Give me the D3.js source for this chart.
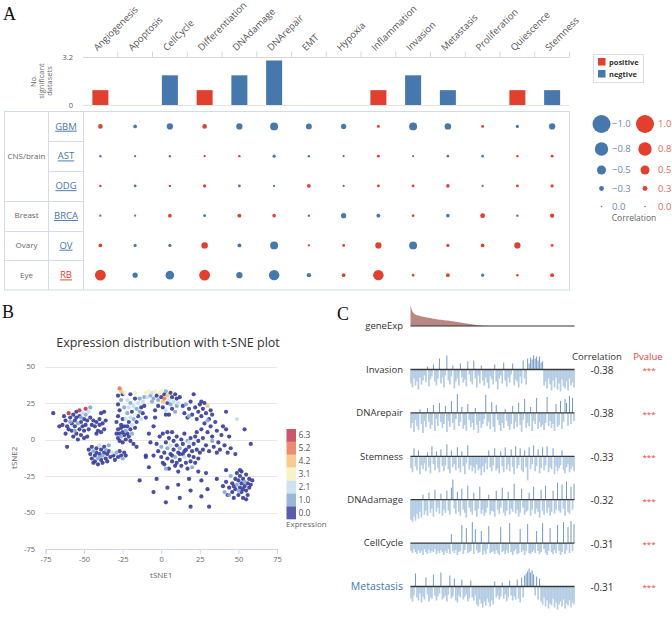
<!DOCTYPE html>
<html>
<head>
<meta charset="utf-8">
<script src="https://cdn.jsdelivr.net/npm/d3@7"></script>
<style>
  body { margin: 0; background: #fff; }
  svg { display: block; font-family: "Open Sans", "Noto Sans", sans-serif; }
</style>
</head>
<body>
<svg id="chart" width="672" height="620"></svg>
<script>
// ---------- 数据 ----------
// A: hallmark 列与显著数据集条形
const hallmarks = ["Angiogenesis", "Apoptosis", "CellCycle", "Differentiation", "DNAdamage", "DNArepair", "EMT",
  "Hypoxia", "Inflammation", "Invasion", "Metastasis", "Proliferation", "Quiescence", "Stemness"];
const sigCounts = [1, 0, 2, 1, 2, 3, 0, 0, 1, 2, 1, 0, 1, 1];
const sigSign = [1, 0, -1, 1, -1, -1, 0, 0, 1, -1, -1, 0, 1, -1];
const barTicks = [0, 3.2];

// A: 气泡矩阵
const cancers = ["GBM", "AST", "ODG", "BRCA", "OV", "RB"];
const tissues = ["CNS/brain", "Breast", "Ovary", "Eye"];
const tissueRows = [3, 1, 1, 1];
const corrGBM = [0.28, -0.2, -0.37, 0.28, -0.37, -0.45, -0.35, -0.32, 0.13, -0.45, -0.38, 0.12, -0.15, -0.37];
const corrAST = [-0.08, -0.05, -0.07, 0.06, 0.08, -0.15, -0.08, -0.05, 0.12, -0.04, -0.1, -0.1, 0.08, 0.12];
const corrODG = [0.08, -0.12, 0.08, 0.15, -0.12, -0.06, 0.2, -0.06, 0.12, 0.12, 0.18, -0.06, 0.12, 0.15];
const corrBRCA = [-0.06, -0.05, 0.2, -0.12, 0.22, 0.18, -0.07, -0.32, -0.22, 0.1, -0.18, 0.3, -0.08, 0.25];
const corrOV = [0.2, -0.14, -0.15, 0.38, -0.22, -0.45, 0.06, 0.12, 0.37, -0.45, 0.15, 0.2, 0.37, 0.12];
const corrRB = [0.62, -0.32, -0.48, 0.62, -0.37, -0.6, -0.25, 0.2, 0.6, 0.1, 0.2, -0.15, 0.08, 0.22];
const corrRows = [corrGBM, corrAST, corrODG, corrBRCA, corrOV, corrRB];
const sizeLegend = [1.0, 0.8, 0.5, 0.3, 0.0];

// B: t-SNE 点 [tSNE1, tSNE2, expression]
const tsnePoints = [
  [-70,18,0],[-61,-5,0],[-60,18,6.3],[-53,20,6.3],[-49,21,6.3],[-46,22,1],[-47,19,2.1],
  [-64,10,0],[-62,13,0],[-61,9,0],[-59,15,0],[-58,11,0],[-58,6,0],[-57,17,0],[-56,13,0],[-56,9,0],[-55,4,0],
  [-55,15,0],[-54,11,1],[-53,7,0],[-53,16,0],[-52,12,0],[-52,3,0],[-51,9,0],[-50,14,0],[-50,6,0],[-49,17,1],
  [-49,10,0],[-48,2,0],[-48,13,0],[-47,7,0],[-46,15,0],[-45,10,0],[-60,7,0],[-62,4,0],[-57,2,0],[-54,0,0],
  [-51,18,2.1],[-63,16,0],[-59,12,1],[-55,19,0],[-52,15,1],[-56,6,1],[-66,9,0],[-50,1,0],
  [-44,13,0],[-43,9,0],[-42,12,0],[-41,6,0],[-40,10,0],[-40,14,0],[-39,5,0],[-38,11,0],[-37,7,0],[-37,19,0],
  [-36,13,0],[-42,4,0],[-39,18,0],
  [-47,-7,0],[-46,-10,0],[-45,-5,0],[-45,-13,0],[-44,-8,1],[-43,-11,0],[-43,-15,0],[-42,-6,0],[-42,-9,0],
  [-41,-13,1],[-41,-17,0],[-40,-4,2.1],[-40,-10,0],[-39,-7,0],[-39,-14,0],[-38,-11,1],[-38,-16,0],[-37,-5,0],
  [-37,-9,0],[-36,-13,0],[-36,-7,1],[-35,-10,0],[-35,-15,0],[-34,-4,1],[-34,-8,0],[-33,-12,0],[-32,-9,2.1],
  [-31,-11,0],[-30,-14,0],[-29,-9,1],[-28,-12,0],[-27,-8,0],[-26,-11,0],[-25,-13,1],[-24,-9,0],[-23,-11,0],
  [-44,-16,0],[-40,-12,1],
  [-29,4,0],[-28,1,0],[-28,7,0],[-27,-1,0],[-27,4,0],[-26,8,0],[-26,2,1],[-25,5,0],[-25,-2,0],[-24,9,0],
  [-24,3,0],[-23,6,1],[-23,0,0],[-22,4,0],[-22,9,0],[-21,2,0],[-20,7,0],[-20,-1,0],[-19,4,1],[-18,-3,0],
  [-17,8,0],[-16,-5,0],
  [-29,12,0],[-28,16,0],[-28,24,0],[-28,30,0],[-27,35,5.2],[-27,20,0],[-26,27,1],[-26,33,4.2],[-25,14,0],
  [-25,31,0],[-24,22,1],[-24,32,3.1],[-26,10,0],
  [-23,14,2.1],[-22,18,1],[-21,12,0],[-21,22,2.1],[-20,15,2.1],[-20,25,1],[-19,19,0],[-19,10,2.1],[-18,23,2.1],
  [-18,14,1],[-17,17,3.1],[-17,28,0],[-16,21,1],[-16,12,0],[-15,25,2.1],[-15,16,0],[-14,19,1],[-14,28,1],
  [-13,22,0],[-13,14,2.1],[-12,26,2.1],[-12,18,0],[-11,23,0],[-11,29,1],[-20,31,0],[-17,32,3.1],[-22,27,2.1],
  [-10,15,0],
  [-10,32,3.1],[-8,33,3.1],[-7,30,1],[-6,32,2.1],[-5,28,1],[-4,33,3.1],[-3,30,0],[-2,27,1],[-1,32,3.1],
  [0,29,0],[0,33,3.1],[1,26,4.2],[2,31,0],[2,28,5.2],[3,33,1],[4,25,0],[4,30,4.2],[5,27,2.1],[6,32,0],
  [6,24,1],[7,29,0],[8,26,2.1],[9,31,0],[10,23,1],[10,28,0],[11,25,2.1],[-9,29,2.1],[-6,26,1],[1,22,0],
  [3,20,2.1],[5,17,0],[7,21,0],[9,19,1],[12,29,0],[-2,23,0],[-4,20,0],
  [14,23,0],[15,18,0],[16,24,1],[17,15,0],[18,21,0],[19,26,0],[20,17,0],[21,31,0],[22,22,0],[23,14,0],
  [24,19,0],[25,24,0],[26,16,0],[27,21,0],[28,25,0],[29,18,0],[30,23,4.2],[31,14,0],[32,20,0],[18,16,1],
  [26,26,0],[33,17,0],
  [-3,-3,0],[-2,-8,0],[-1,2,0],[0,-12,0],[0,-5,1],[1,4,0],[2,-17,0],[2,-9,0],[3,-2,0],[4,-13,0],[4,-6,1],
  [5,1,0],[5,-20,0],[6,-10,0],[6,-4,2.1],[7,-15,0],[7,5,0],[8,-7,0],[8,-1,0],[9,-18,0],[9,-12,1],[10,-4,0],
  [10,2,0],[11,-9,0],[11,-22,0],[12,-14,0],[12,-6,1],[13,0,0],[13,-18,0],[14,-10,0],[14,-3,0],[15,-12,2.1],
  [15,4,0],[16,-7,0],[16,-16,0],[17,-1,1],[17,-20,0],[18,-11,0],[18,-5,0],[19,1,0],[19,-15,0],[20,-8,0],
  [20,-19,1],[21,-3,0],[21,-12,0],[22,2,0],[22,-16,0],[23,-7,0],[23,5,0],[24,-13,0],[24,-1,0],[25,-9,0],
  [3,-20,1],[1,-16,0],[12,-10,0],[10,-16,0],[7,-11,0],[15,-8,0],[18,-2,2.1],[-5,-11,0],[-7,-2,0],[-10,-12,0],
  [26,7,0],[27,1,0],[28,11,0],[29,-4,0],[30,5,0],[31,-8,0],[32,9,0],[33,2,0],[34,-5,0],[35,12,0],[36,6,0],
  [37,-2,0],[38,-7,0],[39,3,0],[40,9,0],[41,-4,0],[42,7,0],[43,-9,0],[44,2,0],[45,-6,0],[30,13,1],[36,-9,0],
  [33,-1,1],[27,-7,0],
  [42,19,0],[49,14,2.1],[54,7,0],[58,-3,0],[48,-10,0],[42,-21,0],
  [40,-32,0],[41,-36,1],[42,-29,0],[43,-38,0],[44,-33,0],[45,-25,1],[46,-36,0],[46,-30,0],[47,-40,0],
  [48,-27,0],[48,-34,0],[49,-23,0],[49,-31,1],[50,-38,0],[50,-28,0],[51,-33,0],[51,-25,0],[52,-30,0],
  [52,-36,0],[52,-22,0],[53,-27,0],[53,-40,0],[54,-32,0],[54,-29,1],[55,-24,0],[55,-35,0],[56,-30,0],
  [56,-38,0],[57,-27,0],[57,-33,0],[58,-31,0],[59,-28,0],[53,-34,0],[50,-35,1],[47,-32,0],[55,-41,0],
  [44,-38,1],[51,-21,0],
  [-14,-28,0],[-5,-36,0],[3,-43,0],[4,-33,0],[12,-40,0],[11,-31,0],[19,-35,0],[19,-46,0],[26,-39,0],
  [31,-46,0],[30,-34,0],[36,-27,0],[24,-22,0],[29,-23,0],[-10,-11,0],[-8,-19,0],[-3,-27,0],[18,-27,0],
  [26,-28,0],[-5,9,0],[-4,15,0],[3,17,0],[4,5,0],[-8,4,0]
];
const exprLevels = [0.0, 1.0, 2.1, 3.1, 4.2, 5.2, 6.3];
const exprColors = ["#3b3f9b", "#86aad2", "#c4def0", "#f4f0c0", "#f8c27e", "#e9785d", "#c23a4e"];
const tsneTicks = [-75, -50, -25, 0, 25, 50, 75];
const tsneYTicks = [-75, -50, -25, 0, 25, 50];

// C: 基因表达与各 hallmark 评分
const geneExp = [6.3, 4.6, 3.9, 3.5, 3.3, 3.2, 3.05, 2.95, 2.85, 2.75, 2.65, 2.55, 2.45, 2.35, 2.25, 2.2,
  2.1, 2.0, 1.95, 1.9, 1.85, 1.78, 1.72, 1.66, 1.6, 1.52, 1.46, 1.4, 1.32, 1.25, 1.18, 1.1, 1.02, 0.95,
  0.88, 0.8, 0.72, 0.64, 0.56, 0.48, 0.4, 0.33, 0.26, 0.19, 0.12, 0.06, 0.02,
  0, 0, 0, 0, 0, 0, 0, 0, 0, 0, 0, 0, 0, 0, 0, 0, 0, 0, 0, 0, 0, 0, 0, 0, 0, 0, 0, 0, 0, 0, 0, 0, 0, 0,
  0, 0, 0, 0, 0, 0, 0, 0, 0, 0, 0, 0, 0, 0, 0, 0, 0, 0, 0, 0, 0, 0];
const sigNames = ["Invasion", "DNArepair", "Stemness", "DNAdamage", "CellCycle", "Metastasis"];
const sigCorr = ["-0.38", "-0.38", "-0.33", "-0.32", "-0.31", "-0.31"];
const sigP = ["***", "***", "***", "***", "***", "***"];
const scoreInvasion = [-14,-18,-9,-16,-12,-20,-8,-15,-11,-6,-13,3,-17,-10,-7,5,-12,-16,-9,11,
  -14,-8,-18,-6,14,-11,-15,-7,4,-19,-12,-9,-16,6,-8,-13,-10,-17,8,-5,
  -12,-15,9,-9,-18,-6,-14,4,-11,-16,-8,-13,-19,-7,-10,-15,5,-12,-20,-9,
  -6,-14,7,-11,-17,-8,-13,-5,6,-16,-10,-12,-18,-7,-14,9,-9,-15,11,6,
  12,10,14,11,13,9,13,7,8,-16,-12,-19,-9,-15,-21,-11,-18,-8,-20,-14,
  -22,-10,-17,-19,-12,-21,-9,-16,-13,-18];
const scoreDNArepair = [-15,-10,-19,-7,-13,-17,4,-11,-20,-8,-14,5,-9,-16,-12,8,-18,-6,-13,10,
  -9,-15,-11,7,-19,-8,-14,12,-10,-17,-6,19,-13,-9,6,-16,-12,-18,9,-7,
  -14,-10,-17,5,-12,-20,-8,-15,-11,-6,18,-13,-9,-16,11,-14,-19,8,-7,-12,
  -18,-10,-15,4,-8,-13,-17,-11,7,-16,-9,-14,10,-12,-19,-7,14,-15,-10,-13,
  6,-18,-8,-11,15,-16,-9,-14,-12,-17,-10,16,-13,-8,-15,-11,-18,9,-14,-12,
  12,-16,-9,14,10,-13,17,-11,15,-8];
const scoreStemness = [-12,-16,8,-10,-14,6,-18,-9,-13,-7,-15,4,-11,-17,10,-8,-14,5,-12,-16,
  7,-10,-15,-9,12,-13,-17,6,-11,-8,-14,9,-12,-16,5,-10,-18,-7,11,-13,
  -9,-15,-11,-17,-8,-14,-12,-19,-10,-16,-7,-13,6,-11,-15,-9,8,-14,-12,-17,
  5,-10,-16,9,-13,-8,-15,7,-11,-18,10,-12,-9,8,-14,-16,6,-11,-24,9,
  -13,-8,11,-15,-10,7,-17,-12,9,-14,-9,10,-16,-11,-13,8,-18,-10,-15,-12,
  -9,6,-14,-17,-11,-8,-16,-13,-10,-15];
const scoreDNAdamage = [-20,-22,-17,-21,-14,-19,-12,-18,5,-15,-11,-16,7,-13,-9,-17,10,-12,-8,-14,
  6,-16,-10,-13,9,-11,-15,12,20,-9,-14,8,-12,-16,11,-10,-13,-18,14,-8,
  -12,-15,7,-11,-17,-9,13,-14,-10,-16,-13,-8,5,-15,-11,-12,-17,9,-10,-14,
  -8,12,-13,-16,-11,8,-15,-9,-12,16,-14,-10,-17,-13,11,-8,-15,-12,-11,7,
  -16,-10,13,-14,-9,-12,-18,10,-11,-15,14,-13,-8,-16,-12,9,-14,-10,17,-11,
  -13,15,-9,-16,18,-12,-14,13,-10,16];
const scoreCellCycle = [-8,-10,-6,-9,-11,-7,-10,-8,-12,-6,-9,-11,-7,-10,-8,-9,-6,-11,-8,-10,
  -7,-9,-12,-8,-10,-6,-11,9,-8,-10,-7,-12,-9,-8,18,-11,-7,15,-10,-9,
  -8,21,-11,14,-7,-10,-9,12,-12,-8,-11,-6,17,-10,-9,-8,-11,-7,-10,-12,
  16,-9,-8,-11,-7,-10,20,-9,-12,-8,-6,-11,-10,14,-9,-7,-12,-8,19,-10,
  -11,-9,-7,-10,12,-8,-11,-9,20,-6,-10,-12,-8,15,-9,-11,-7,-10,18,-8,
  -12,-9,21,-11,-7,16,-10,22,-8,19];
const scoreMetastasis = [-12,-15,-9,13,-11,-14,-7,-16,-10,-13,9,-8,-15,-11,-12,12,-9,-14,-10,-7,
  14,-13,-11,-9,-15,-8,11,-12,-10,8,-14,-16,-9,-11,7,-13,-10,-8,-15,-12,
  6,-11,-14,-9,-18,-20,-13,-17,-21,-15,-19,-12,-16,-20,-14,-18,5,-11,-9,-13,
  -10,4,-12,-8,-15,-11,6,-9,-14,-10,-13,7,-12,-16,9,-11,11,13,15,18,
  14,16,12,-9,10,-13,8,-15,-18,-11,-20,-14,-22,-17,-19,-12,-21,-16,-23,-18,
  -15,-20,-13,-22,-17,-19,-14,-21,-16,-18];
const sigScores = [scoreInvasion, scoreDNArepair, scoreStemness, scoreDNAdamage, scoreCellCycle, scoreMetastasis];

// ---------- 绘图 ----------
const svg = d3.select("#chart");
const red = "#e2402f";
const blue = "#4677ad";
const grey = "#666";

// 面板字母
svg.selectAll(".panel-letter")
  .data([["A", 3, 20], ["B", 2, 318], ["C", 337, 320]])
  .join("text")
  .attr("x", (d) => d[1])
  .attr("y", (d) => d[2])
  .attr("font-family", "Liberation Serif, serif")
  .attr("font-size", 18)
  .attr("fill", "#111")
  .text((d) => d[0]);

// ===== A: 条形图 =====
const colX = d3.scaleBand().domain(hallmarks).range([83, 569.5]);
const barY = d3.scaleLinear().domain([0, 3.2]).range([105, 57.5]);
const gA = svg.append("g");

gA.append("line")
  .attr("x1", 83).attr("x2", 569.5)
  .attr("y1", barY(3.2)).attr("y2", barY(3.2))
  .attr("stroke", "#d8d8d8");
gA.append("line")
  .attr("x1", 83).attr("x2", 569.5)
  .attr("y1", barY(0) + 0.5).attr("y2", barY(0) + 0.5)
  .attr("stroke", "#e4e4e4");

// 列分隔刻度
gA.selectAll(".col-tick")
  .data(hallmarks.slice(1).concat(["end"]))
  .join("line")
  .attr("x1", (d, i) => colX.range()[0] + colX.step() * (i + 1))
  .attr("x2", (d, i) => colX.range()[0] + colX.step() * (i + 1))
  .attr("y1", barY(3.2) - 6)
  .attr("y2", barY(3.2))
  .attr("stroke", "#d8d8d8");

gA.selectAll(".col-label")
  .data(hallmarks)
  .join("text")
  .attr("transform", (d) => `translate(${colX(d) + colX.bandwidth() / 2 - 3},${barY(3.2) - 6}) rotate(-45)`)
  .attr("font-size", 9.5)
  .attr("fill", "#555")
  .text((d) => d);

gA.selectAll(".bar")
  .data(hallmarks)
  .join("rect")
  .attr("x", (d) => colX(d) + colX.bandwidth() / 2 - 8)
  .attr("width", 16)
  .attr("y", (d, i) => barY(sigCounts[i]))
  .attr("height", (d, i) => barY(0) - barY(sigCounts[i]))
  .attr("fill", (d, i) => (sigSign[i] > 0 ? red : blue));

gA.selectAll(".bar-tick")
  .data(barTicks)
  .join("text")
  .attr("x", 73)
  .attr("y", (d) => barY(d))
  .attr("dy", "0.35em")
  .attr("text-anchor", "end")
  .attr("font-size", 7.5)
  .attr("fill", "#555")
  .text((d) => d);

gA.append("text")
  .attr("transform", "translate(43,81) rotate(-90)")
  .attr("text-anchor", "middle")
  .attr("font-size", 7.5)
  .attr("fill", grey)
  .selectAll("tspan")
  .data(["No.", "significant", "datasets"])
  .join("tspan")
  .attr("x", 0)
  .attr("dy", (d, i) => (i === 0 ? "-0.9em" : "1.05em"))
  .text((d) => d);

// 正负图例
const legA = gA.append("g");
legA.append("rect")
  .attr("x", 593.5).attr("y", 54.5).attr("width", 50).attr("height", 28)
  .attr("fill", "#fff").attr("stroke", "#ddd");
legA.selectAll(".leg-item")
  .data([["positive", red], ["negtive", blue]])
  .join("g")
  .attr("transform", (d, i) => `translate(598,${58 + i * 12})`)
  .call((g) => {
    g.append("rect").attr("width", 7.5).attr("height", 7.5).attr("fill", (d) => d[1]);
    g.append("text").attr("x", 11).attr("y", 7).attr("font-size", 7.5)
      .attr("font-weight", "bold").attr("fill", "#333").text((d) => d[0]);
  });

// ===== A: 气泡表格 =====
const rowY = d3.scaleBand().domain(cancers).range([111.5, 290]);
const rScale = d3.scaleLinear().domain([0, 0.3, 0.5, 0.8, 1]).range([0.8, 2.4, 4.5, 6.7, 9]);
const lineColor = "#d3dbea";
const gT = svg.append("g");

gT.append("rect")
  .attr("x", 4.5).attr("y", 111.5).attr("width", 565).attr("height", 178.5)
  .attr("fill", "none").attr("stroke", lineColor);
gT.append("line").attr("x1", 48.5).attr("x2", 48.5).attr("y1", 111.5).attr("y2", 290).attr("stroke", lineColor);
gT.append("line").attr("x1", 83.5).attr("x2", 83.5).attr("y1", 111.5).attr("y2", 290).attr("stroke", lineColor);

gT.selectAll(".row-line")
  .data(cancers.slice(1))
  .join("line")
  .attr("x1", 48.5).attr("x2", 83.5)
  .attr("y1", (d) => Math.round(rowY(d)) + 0.5)
  .attr("y2", (d) => Math.round(rowY(d)) + 0.5)
  .attr("stroke", lineColor);

let rowStart = 0;
const tissueSpans = tissues.map((t, i) => {
  const s = { name: t, start: rowStart, n: tissueRows[i] };
  rowStart += tissueRows[i];
  return s;
});
gT.selectAll(".tissue-line")
  .data(tissueSpans.slice(1))
  .join("line")
  .attr("x1", 4.5).attr("x2", 48.5)
  .attr("y1", (d) => Math.round(rowY(cancers[d.start])) + 0.5)
  .attr("y2", (d) => Math.round(rowY(cancers[d.start])) + 0.5)
  .attr("stroke", lineColor);
gT.selectAll(".tissue-label")
  .data(tissueSpans)
  .join("text")
  .attr("x", 26.5)
  .attr("y", (d) => rowY(cancers[d.start]) + (rowY.step() * d.n) / 2)
  .attr("dy", "0.35em")
  .attr("text-anchor", "middle")
  .attr("font-size", 8)
  .attr("fill", grey)
  .text((d) => d.name);

gT.selectAll(".cancer-label")
  .data(cancers)
  .join("text")
  .attr("x", 66)
  .attr("y", (d) => rowY(d) + rowY.bandwidth() / 2)
  .attr("dy", "0.35em")
  .attr("text-anchor", "middle")
  .attr("font-size", 9.5)
  .attr("text-decoration", "underline")
  .attr("fill", (d) => (d === "RB" ? red : blue))
  .text((d) => d);

cancers.forEach((c, ri) => {
  gT.append("g")
    .selectAll("circle")
    .data(corrRows[ri])
    .join("circle")
    .attr("cx", (d, i) => colX(hallmarks[i]) + colX.bandwidth() / 2)
    .attr("cy", rowY(c) + rowY.bandwidth() / 2)
    .attr("r", (d) => rScale(Math.abs(d)))
    .attr("fill", (d) => (d >= 0 ? red : blue));
});

// 相关性大小图例
const legSize = svg.append("g");
const legYs = [124, 149, 170, 188.5, 206.5];
sizeLegend.forEach((v, i) => {
  const y = legYs[i];
  legSize.append("circle").attr("cx", 601.5).attr("cy", y).attr("r", rScale(v)).attr("fill", blue);
  legSize.append("circle").attr("cx", 645).attr("cy", y).attr("r", rScale(v)).attr("fill", red);
  legSize.append("text").attr("x", 612).attr("y", y).attr("dy", "0.35em")
    .attr("font-size", 9.5).attr("fill", "#6a8bb8")
    .text(v === 0 ? "0.0" : "\u2212" + v.toFixed(1));
  legSize.append("text").attr("x", 658).attr("y", y).attr("dy", "0.35em")
    .attr("font-size", 9.5).attr("fill", "#e8685c")
    .text(v.toFixed(1));
});
legSize.append("text")
  .attr("x", 634).attr("y", 221)
  .attr("text-anchor", "middle")
  .attr("font-size", 8.5)
  .attr("fill", grey)
  .text("Correlation");

// ===== B: t-SNE =====
const xB = d3.scaleLinear().domain([-75, 75]).range([45.5, 277]);
const yB = d3.scaleLinear().domain([-75, 50]).range([549, 366.5]);
const exprColor = d3.scaleThreshold().domain([0.5, 1.5, 2.6, 3.6, 4.7, 5.7]).range(exprColors);
const gB = svg.append("g");

gB.append("text")
  .attr("x", 168).attr("y", 343)
  .attr("dy", "0.35em")
  .attr("text-anchor", "middle")
  .attr("font-size", 12.5)
  .attr("fill", "#333")
  .text("Expression distribution with t-SNE plot");

gB.selectAll(".grid")
  .data(tsneYTicks.filter((d) => d > -75))
  .join("line")
  .attr("x1", xB(-75)).attr("x2", xB(75))
  .attr("y1", (d) => Math.round(yB(d)) + 0.5)
  .attr("y2", (d) => Math.round(yB(d)) + 0.5)
  .attr("stroke", "#e6e6e6");

gB.selectAll(".ytick")
  .data(tsneYTicks)
  .join("text")
  .attr("x", 35)
  .attr("y", (d) => yB(d))
  .attr("dy", "0.35em")
  .attr("text-anchor", "end")
  .attr("font-size", 7.5)
  .attr("fill", grey)
  .text((d) => d);

const xAxisB = gB.append("g")
  .attr("transform", `translate(0,${yB(-75)})`)
  .call(d3.axisBottom(xB).tickValues(tsneTicks).tickFormat((d) => String(d)).tickSize(5).tickPadding(3));
xAxisB.selectAll("path, line").attr("stroke", "#ccd6eb");
xAxisB.selectAll("text").attr("font-size", 7.5).attr("fill", grey).attr("font-family", "Open Sans, sans-serif");

gB.append("text")
  .attr("x", xB(0)).attr("y", 578)
  .attr("text-anchor", "middle")
  .attr("font-size", 8)
  .attr("fill", grey)
  .text("tSNE1");
gB.append("text")
  .attr("transform", `translate(17,${yB(-12.5)}) rotate(-90)`)
  .attr("text-anchor", "middle")
  .attr("font-size", 8)
  .attr("fill", grey)
  .text("tSNE2");

gB.append("g")
  .selectAll("circle")
  .data(tsnePoints.slice().sort((a, b) => a[2] - b[2]))
  .join("circle")
  .attr("cx", (d) => xB(d[0]))
  .attr("cy", (d) => yB(d[1]))
  .attr("r", 2.1)
  .attr("fill", (d) => exprColor(d[2]))
  .attr("fill-opacity", 0.92);

// 表达量色块图例
const legB = gB.append("g");
const blockH = 12.9;
exprLevels.slice().reverse().forEach((v, i) => {
  legB.append("rect")
    .attr("x", 286.5).attr("y", 429 + i * blockH)
    .attr("width", 9.5).attr("height", blockH)
    .attr("fill", exprColor(v)).attr("fill-opacity", 0.85);
  legB.append("text")
    .attr("x", 298.5).attr("y", 429 + i * blockH + blockH / 2)
    .attr("dy", "0.35em")
    .attr("font-size", 8.5)
    .attr("fill", "#555")
    .text(v.toFixed(1));
});
legB.append("text")
  .attr("x", 286).attr("y", 527)
  .attr("font-size", 8)
  .attr("fill", grey)
  .text("Expression");

// ===== C: 条码图 =====
const gC = svg.append("g");
const xG = d3.scaleLinear().domain([0, geneExp.length - 1]).range([410.5, 574.5]);
const yG = d3.scaleLinear().domain([0, 6.3]).range([326, 305.5]);

gC.append("path")
  .datum(geneExp)
  .attr("d", d3.area().x((d, i) => xG(i)).y0(yG(0)).y1((d) => yG(d)))
  .attr("fill", "#b98880");
gC.append("line")
  .attr("x1", 410.5).attr("x2", 574.5).attr("y1", yG(0)).attr("y2", yG(0))
  .attr("stroke", "#333").attr("stroke-width", 1);
gC.append("text")
  .attr("x", 403).attr("y", yG(0))
  .attr("dy", "0.35em")
  .attr("text-anchor", "end")
  .attr("font-size", 9.5)
  .attr("fill", "#333")
  .text("geneExp");

const rowC = d3.scalePoint().domain(sigNames).range([369.5, 586.5]);
const xS = d3.scaleLinear().domain([0, scoreInvasion.length - 1]).range([411, 574]);
const hS = d3.scaleLinear().domain([-25, 25]).range([25, -25]);

gC.append("text")
  .attr("x", 597).attr("y", 357)
  .attr("dy", "0.35em")
  .attr("text-anchor", "middle")
  .attr("font-size", 9.5)
  .attr("fill", "#333")
  .text("Correlation");
gC.append("text")
  .attr("x", 648).attr("y", 357)
  .attr("dy", "0.35em")
  .attr("text-anchor", "middle")
  .attr("font-size", 9.5)
  .attr("fill", "#e8433a")
  .text("Pvalue");

sigNames.forEach((name, k) => {
  const y0 = rowC(name);
  const g = gC.append("g");
  // 先画负向（浅色、较宽），再画正向（深色、细线）
  g.append("g")
    .selectAll("line")
    .data(sigScores[k].map((v, i) => [i, v]).filter((d) => d[1] < 0))
    .join("line")
    .attr("x1", (d) => xS(d[0]))
    .attr("x2", (d) => xS(d[0]))
    .attr("y1", y0)
    .attr("y2", (d) => y0 + hS(d[1]))
    .attr("stroke", "#b3cce3")
    .attr("stroke-width", 1.7);
  g.append("g")
    .selectAll("line")
    .data(sigScores[k].map((v, i) => [i, v]).filter((d) => d[1] > 0))
    .join("line")
    .attr("x1", (d) => xS(d[0]))
    .attr("x2", (d) => xS(d[0]))
    .attr("y1", y0)
    .attr("y2", (d) => y0 + hS(d[1]))
    .attr("stroke", "#7299c4")
    .attr("stroke-width", 1);
  g.append("line")
    .attr("x1", 410.5).attr("x2", 574.5).attr("y1", y0).attr("y2", y0)
    .attr("stroke", "#3a3a3a").attr("stroke-width", 1.3);
  g.append("text")
    .attr("x", 403).attr("y", y0)
    .attr("dy", "0.35em")
    .attr("text-anchor", "end")
    .attr("font-size", name === "Metastasis" ? 10.5 : 9.5)
    .attr("fill", name === "Metastasis" ? blue : "#333")
    .text(name);
  g.append("text")
    .attr("x", 602).attr("y", y0 + 1)
    .attr("dy", "0.35em")
    .attr("text-anchor", "middle")
    .attr("font-size", 10)
    .attr("fill", "#333")
    .text(sigCorr[k]);
  g.append("text")
    .attr("x", 649).attr("y", y0 + 1)
    .attr("dy", "0.35em")
    .attr("text-anchor", "middle")
    .attr("font-size", 8)
    .attr("fill", "#e8433a")
    .text(sigP[k]);
});
</script>
</body>
</html>
